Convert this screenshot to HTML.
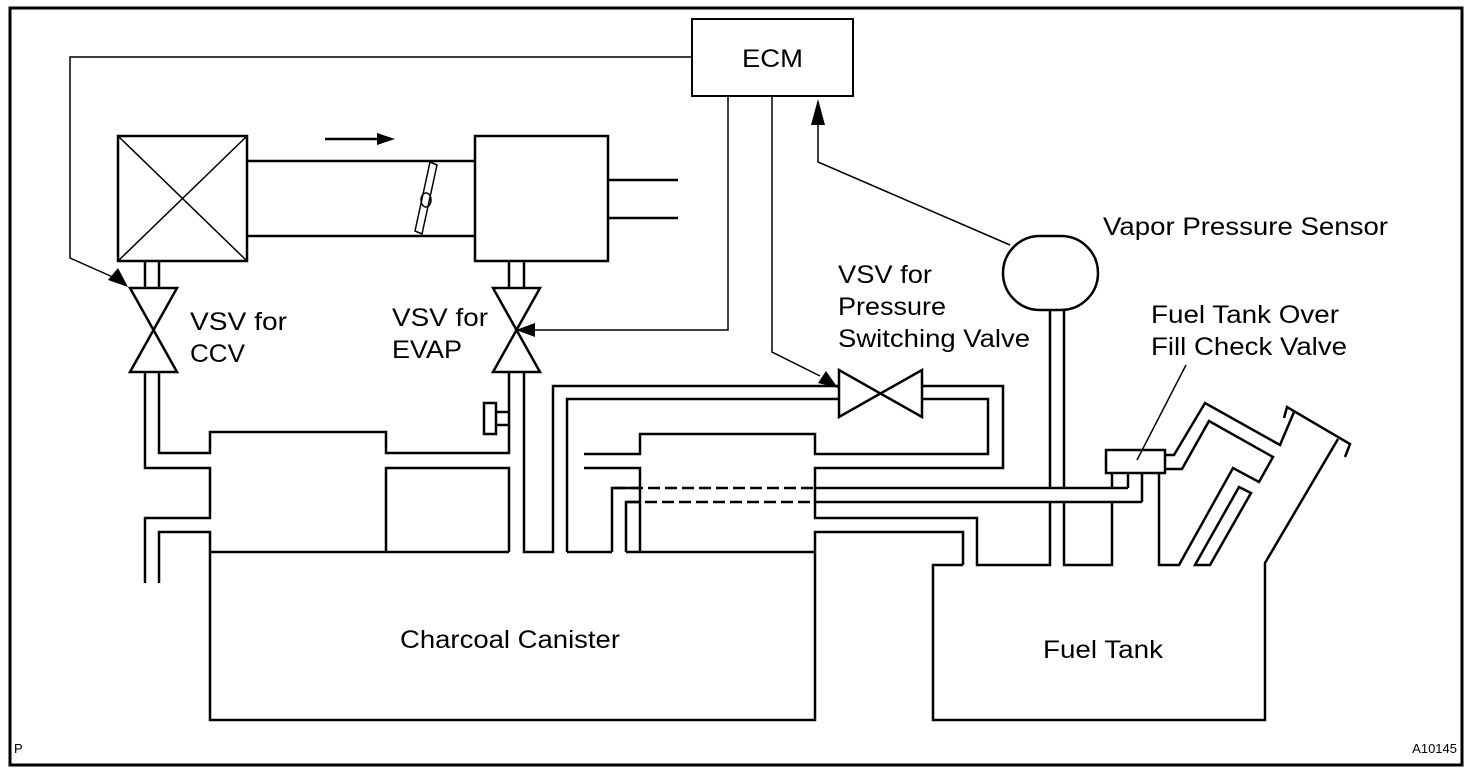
<!DOCTYPE html>
<html><head><meta charset="utf-8"><style>
html,body{margin:0;padding:0;background:#fff;}
svg{display:block;}
text{font-family:"Liberation Sans",sans-serif;fill:#000;}
</style></head><body>
<svg width="1472" height="774" viewBox="0 0 1472 774" xmlns="http://www.w3.org/2000/svg">
<rect x="0" y="0" width="1472" height="774" fill="#fff"/>
<rect x="10" y="8" width="1452" height="757" fill="none" stroke="#000" stroke-width="3"/>

<rect x="692" y="19" width="161" height="77" fill="none" stroke="#000" stroke-width="2"/>
<text x="742" y="67" font-size="25" textLength="61" lengthAdjust="spacingAndGlyphs">ECM</text>

<g fill="none" stroke="#000" stroke-width="1.5">
<polyline points="692,57 70,57 70,258 115,278"/>
<polyline points="728,96 728,330 535,330"/>
<polyline points="772,96 772,352 820,376"/>
<polyline points="1010,245 818,162 818,120"/>
<polygon points="430,162 437,165 422,234 415,231"/>
<ellipse cx="426" cy="200" rx="5" ry="7"/>
<line x1="1186" y1="365" x2="1137" y2="460"/>
</g>
<g fill="#000">
<polygon points="128,287 108,280 118,268"/>
<polygon points="516,330 535,323 535,337"/>
<polygon points="838,388 818,383 826,371"/>
<polygon points="818,99 811,125 825,125"/>
<polygon points="395,139 377,133 377,145"/>
</g>
<line x1="325" y1="139" x2="380" y2="139" stroke="#000" stroke-width="2.5"/>

<g fill="none" stroke="#000" stroke-width="2.5">
<rect x="118" y="136" width="129" height="125"/>
<rect x="475" y="136" width="133" height="125"/>
<line x1="247" y1="161" x2="475" y2="161"/>
<line x1="247" y1="236" x2="475" y2="236"/>
<line x1="608" y1="180" x2="678" y2="180"/>
<line x1="608" y1="218" x2="678" y2="218"/>
<line x1="145" y1="261" x2="145" y2="288"/>
<line x1="159" y1="261" x2="159" y2="288"/>
<polygon points="130,288 177,288 130,372 177,372"/>
<line x1="509" y1="261" x2="509" y2="288"/>
<line x1="524" y1="261" x2="524" y2="288"/>
<polygon points="493,288 540,288 493,372 540,372"/>
<polygon points="839,370 839,417 922,370 922,417"/>

<polyline points="159,372 159,453 210,453 210,432 386,432 386,453 509,453 509,372"/>
<polyline points="145,372 145,468 210,468 210,518 145,518 145,583"/>
<polyline points="159,583 159,532 210,532 210,720 815,720 815,532 963,532 963,565"/>
<line x1="210" y1="552" x2="509" y2="552"/>
<polyline points="386,552 386,468 509,468 509,552"/>
<rect x="484" y="403" width="12" height="31"/>
<line x1="496" y1="412" x2="509" y2="412"/>
<line x1="496" y1="425" x2="509" y2="425"/>
<polyline points="524,372 524,552 553,552 553,386 839,386"/>
<polyline points="567,552 567,399 839,399"/>
<polyline points="922,386 1003,386 1003,468 815,468 815,518 977,518 977,565 1050,565 1050,502"/>
<polyline points="922,399 988,399 988,454 815,454 815,434 640,434 640,454 584,454"/>
<polyline points="584,468 640,468 640,552"/>
<line x1="567" y1="552" x2="612" y2="552"/>
<line x1="626" y1="552" x2="815" y2="552"/>
<polyline points="612,552 612,488 640,488"/>
<polyline points="626,552 626,502 640,502"/>
<line x1="815" y1="488" x2="1128" y2="488"/>
<line x1="815" y1="502" x2="1142" y2="502"/>
<rect x="1003" y="236" width="95" height="74" rx="37" ry="37"/>
<line x1="1050" y1="310" x2="1050" y2="488"/>
<line x1="1064" y1="310" x2="1064" y2="488"/>
<polyline points="1064,502 1064,565 1112,565 1112,502"/>
<line x1="1112" y1="488" x2="1112" y2="473"/>
<line x1="1128" y1="488" x2="1128" y2="473"/>
<line x1="1142" y1="502" x2="1142" y2="473"/>
<rect x="1106" y="450" width="59" height="23"/>
<polyline points="1165,455 1174,455 1205,403 1280,445 1294,412"/>
<polyline points="1284,418 1287,407 1350,444 1345,457"/>
<polyline points="1165,469 1182,469 1209,421 1273,457 1259,482 1233,468 1179,565 1159,565 1159,473"/>
<polygon points="1239,487 1251,493 1210,565 1195,565"/>
<polyline points="1338,439 1265,563 1265,720 933,720 933,565 963,565"/>
</g>
<g stroke="#000" stroke-width="1.5">
<line x1="118" y1="136" x2="247" y2="261"/>
<line x1="247" y1="136" x2="118" y2="261"/>
</g>
<line x1="614" y1="488" x2="813" y2="488" stroke="#000" stroke-width="2.5" stroke-dasharray="12,5"/>
<line x1="628" y1="502" x2="813" y2="502" stroke="#000" stroke-width="2.5" stroke-dasharray="12,5"/>

<g font-size="25" lengthAdjust="spacingAndGlyphs">
<text x="190" y="330" textLength="97" lengthAdjust="spacingAndGlyphs">VSV for</text>
<text x="190" y="362" textLength="55" lengthAdjust="spacingAndGlyphs">CCV</text>
<text x="392" y="326" textLength="96" lengthAdjust="spacingAndGlyphs">VSV for</text>
<text x="392" y="358" textLength="70" lengthAdjust="spacingAndGlyphs">EVAP</text>
<text x="838" y="283" textLength="94" lengthAdjust="spacingAndGlyphs">VSV for</text>
<text x="838" y="315" textLength="108" lengthAdjust="spacingAndGlyphs">Pressure</text>
<text x="838" y="347" textLength="192" lengthAdjust="spacingAndGlyphs">Switching Valve</text>
<text x="1103" y="235" textLength="285" lengthAdjust="spacingAndGlyphs">Vapor Pressure Sensor</text>
<text x="1151" y="323" textLength="188" lengthAdjust="spacingAndGlyphs">Fuel Tank Over</text>
<text x="1151" y="355" textLength="196" lengthAdjust="spacingAndGlyphs">Fill Check Valve</text>
<text x="400" y="648" textLength="220" lengthAdjust="spacingAndGlyphs">Charcoal Canister</text>
<text x="1043" y="658" textLength="120" lengthAdjust="spacingAndGlyphs">Fuel Tank</text>
</g>
<text x="14" y="753" font-size="13">P</text>
<text x="1457" y="753" font-size="13" text-anchor="end">A10145</text>
</svg>
</body></html>
